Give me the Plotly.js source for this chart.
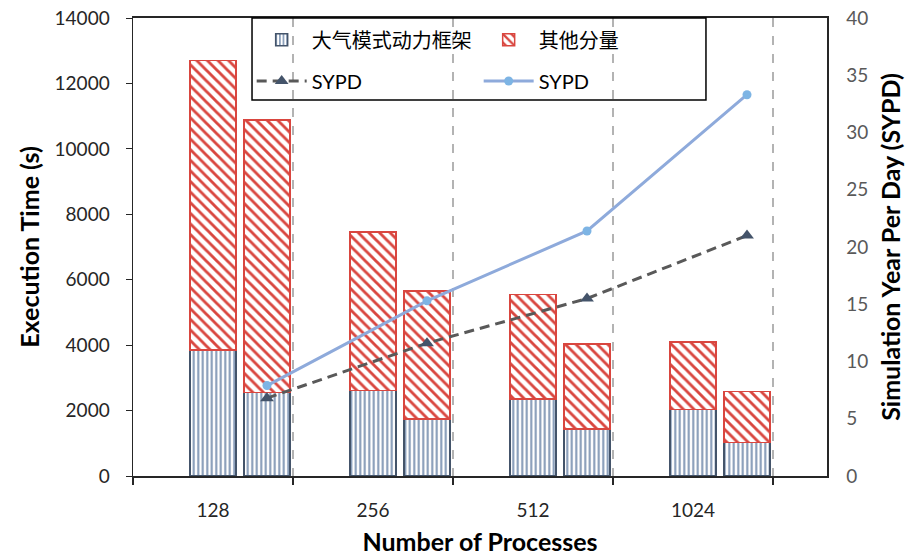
<!DOCTYPE html>
<html>
<head>
<meta charset="utf-8">
<script src="https://cdn.plot.ly/plotly-3.0.1.min.js"></script>
<style>html,body{margin:0;padding:0;background:#fff;}#chart{width:910px;height:558px;}</style>
</head>
<body>
<div id="chart"></div>
<script>
// ---- data ----
const categories = ['128', '256', '512', '1024'];
// first bar of each pair
const dynA   = [3850, 2610, 2350, 2040];   // 大气模式动力框架
const otherA = [8850, 4850, 3200, 2060];   // 其他分量
// second bar of each pair
const dynB   = [2560, 1740, 1440, 1020];
const otherB = [8320, 3920, 2600, 1570];
// SYPD lines (right axis), drawn at the second bar of each pair
const sypdDashed = [6.8, 11.6, 15.5, 21.0];
const sypdSolid  = [7.9, 15.3, 21.4, 33.3];

const idx = categories.map((c, i) => i);
const pairOffset = 0.3375;
const xA = idx;
const xB = idx.map(i => i + pairOffset);
const xBars = [];
const dynVals = [], otherVals = [];
idx.forEach(i => {
  xBars.push(xA[i], xB[i]);
  dynVals.push(dynA[i], dynB[i]);
  otherVals.push(otherA[i], otherB[i]);
});

const FONT = 'Lato, "Noto Sans CJK SC", sans-serif';

const traces = [
  {
    type: 'bar', name: '大气模式动力框架', x: xBars, y: dynVals, width: 0.285,
    marker: {
      color: '#ffffff',
      line: {color: '#44546a', width: 1.5},
      pattern: {shape: '|', fgcolor: '#8096b4', bgcolor: '#ffffff', size: 4.5, solidity: 0.45}
    },
    legend: 'legend', hoverinfo: 'skip'
  },
  {
    type: 'bar', name: '其他分量', x: xBars, y: otherVals, width: 0.285,
    marker: {
      color: '#ffffff',
      line: {color: '#d9463f', width: 1.5},
      pattern: {shape: '\\', fgcolor: '#d9463f', bgcolor: '#ffffff', size: 7.5, solidity: 0.38}
    },
    legend: 'legend', hoverinfo: 'skip'
  },
  {
    type: 'scatter', mode: 'lines+markers', name: 'SYPD', x: xB, y: sypdDashed, yaxis: 'y2',
    line: {color: '#595959', width: 3, dash: '10px,6px'},
    marker: {symbol: 'triangle-up', size: 12, color: '#44546a'},
    legend: 'legend2', hoverinfo: 'skip'
  },
  {
    type: 'scatter', mode: 'lines+markers', name: 'SYPD', x: xB, y: sypdSolid, yaxis: 'y2',
    line: {color: '#8eaadb', width: 3},
    marker: {symbol: 'circle', size: 9, color: '#7db4e4'},
    legend: 'legend2', hoverinfo: 'skip'
  }
];

const layout = {
  width: 910, height: 558,
  margin: {l: 133, r: 83, t: 18, b: 82},
  paper_bgcolor: '#ffffff', plot_bgcolor: '#ffffff',
  font: {family: FONT, color: '#262626'},
  barmode: 'stack',
  showlegend: true,
  xaxis: {
    range: [-0.5, 3.8375],
    tickmode: 'array', tickvals: idx, ticktext: categories,
    ticks: '', showgrid: false, zeroline: false,
    tickfont: {size: 19, color: '#262626'},
    ticklabelstandoff: 16,
    showline: true, linecolor: '#262626', linewidth: 2, mirror: true,
    minor: {
      tickmode: 'linear', tick0: -0.5, dtick: 1,
      ticks: 'outside', ticklen: 7, tickcolor: '#262626', tickwidth: 1.5,
      showgrid: true, gridcolor: '#b3b3b3', griddash: 'dash', gridwidth: 1.5
    },
    title: {text: 'Number of Processes', font: {size: 25, color: '#000', weight: 'bold'}, standoff: 14}
  },
  yaxis: {
    range: [0, 14000], dtick: 2000, tick0: 0, tickformat: 'd',
    showgrid: false, zeroline: false,
    ticks: 'outside', ticklen: 6, tickcolor: '#262626',
    showline: true, linecolor: '#262626', linewidth: 1.5,
    tickfont: {size: 19, color: '#262626'},
    ticklabelstandoff: 12,
    title: {text: 'Execution Time (s)', font: {size: 25, color: '#000', weight: 'bold'}, standoff: 8}
  },
  yaxis2: {
    range: [0, 40], dtick: 5, tick0: 0,
    overlaying: 'y', side: 'right',
    showgrid: false, zeroline: false, ticks: '',
    showline: true, linecolor: '#262626', linewidth: 1.5,
    tickfont: {size: 19, color: '#595959'},
    ticklabelstandoff: 14,
    title: {text: 'Simulation Year Per Day (SYPD)', font: {size: 25, color: '#000', weight: 'bold'}, standoff: 15}
  },
  legend: {
    orientation: 'h', x: 0.171, xanchor: 'left', y: 0.995, yanchor: 'top',
    bgcolor: 'rgba(0,0,0,0)', borderwidth: 0,
    font: {size: 20, color: '#000', family: FONT},
    entrywidth: 162, entrywidthmode: 'pixels', itemwidth: 50, traceorder: 'normal'
  },
  legend2: {
    orientation: 'h', x: 0.171, xanchor: 'left', y: 0.905, yanchor: 'top',
    bgcolor: 'rgba(0,0,0,0)', borderwidth: 0,
    font: {size: 20, color: '#000', family: FONT},
    entrywidth: 162, entrywidthmode: 'pixels', itemwidth: 50, traceorder: 'normal'
  },
  shapes: [{
    type: 'rect', xref: 'paper', yref: 'paper',
    x0: 0.1715, x1: 0.8256, y0: 0.821, y1: 1.0,
    line: {color: '#000', width: 1.5}, fillcolor: 'rgba(0,0,0,0)', layer: 'above'
  }]
};

Plotly.newPlot('chart', traces, layout, {displayModeBar: false, staticPlot: true});
</script>
</body>
</html>
